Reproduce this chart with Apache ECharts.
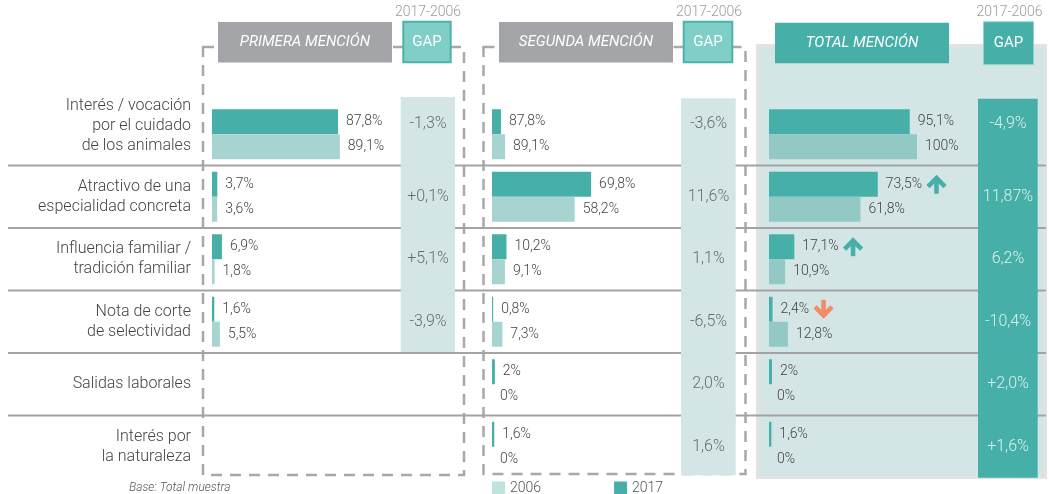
<!DOCTYPE html>
<html>
<head>
<meta charset="utf-8">
<script src="https://cdn.jsdelivr.net/npm/echarts/dist/echarts.min.js"></script>
<style>
  html, body { margin: 0; padding: 0; background: #ffffff; }
  #chart { width: 1049px; height: 494px; }
</style>
</head>
<body>
<div id="chart"></div>
<script>
// ---------- DATA ----------
const categories = [
  'Interés / vocación\npor el cuidado\nde los animales',
  'Atractivo de una\nespecialidad concreta',
  'Influencia familiar /\ntradición familiar',
  'Nota de corte\nde selectividad',
  'Salidas laborales',
  'Interés por\nla naturaleza'
];
const primera2017 = [87.8, 3.7, 6.9, 1.6, null, null];
const primera2006 = [89.1, 3.6, 1.8, 5.5, null, null];
// bar lengths as drawn in the segunda panel
const segunda2017 = [6.3, 69.8, 10.2, 0.8, 2, 1.6];
const segunda2006 = [9.2, 58.2, 9.1, 7.3, 0, 0];
// values printed next to the segunda bars
const segundaText2017 = ['87,8%', '69,8%', '10,2%', '0,8%', '2%', '1,6%'];
const segundaText2006 = ['89,1%', '58,2%', '9,1%', '7,3%', '0%', '0%'];
const total2017 = [95.1, 73.5, 17.1, 2.4, 2, 1.6];
const total2006 = [100, 61.8, 10.9, 12.8, 0, 0];
const totalTrend = [null, 'up', 'up', 'down', null, null];
const gapPrimera = ['-1,3%', '+0,1%', '+5,1%', '-3,9%', null, null];
const gapSegunda = ['-3,6%', '11,6%', '1,1%', '-6,5%', '2,0%', '1,6%'];
const gapTotal = ['-4,9%', '11,87%', '6,2%', '-10,4%', '+2,0%', '+1,6%'];
const yearNames = ['2006', '2017'];

// ---------- STYLE / LAYOUT ----------
const FONT = 'Roboto';
const FW = 300;
const C17 = '#46b0a8';
const C06 = '#a7d4d0';
const C06T = '#93c9c5';
const LIGHT = '#d3e6e5';
const TXT = '#444444';
const G_TOP = 103, G_H = 375;
const FIRST_ROW_LIFT = 8;
const fmt = v => String(v).replace('.', ',') + '%';

const upSvg = "<svg xmlns='http://www.w3.org/2000/svg' width='22' height='20' viewBox='0 0 22 20'><path d='M11 19.5V4.5M2.5 12.3L11 3.8L19.5 12.3' fill='none' stroke='#46b0a8' stroke-width='4.6'/></svg>";
const downSvg = "<svg xmlns='http://www.w3.org/2000/svg' width='22' height='20' viewBox='0 0 22 20'><path d='M11 0.5V15.5M2.5 7.7L11 16.2L19.5 7.7' fill='none' stroke='#f38a6a' stroke-width='4.6'/></svg>";
const upUrl = 'data:image/svg+xml;charset=utf-8,' + encodeURIComponent(upSvg);
const downUrl = 'data:image/svg+xml;charset=utf-8,' + encodeURIComponent(downSvg);

const panels = [
  { left: 212, width: 143.5 },
  { left: 492, width: 142 },
  { left: 769, width: 148 }
];
const gapCols = [
  { left: 401, width: 54 },
  { left: 681, width: 55 },
  { left: 978, width: 60 }
];

const grids = [], xAxes = [], yAxes = [];
panels.concat(gapCols).forEach((p, i) => {
  grids.push({ left: p.left, width: p.width, top: G_TOP, height: G_H, containLabel: false });
  xAxes.push({ type: 'value', gridIndex: i, min: 0, max: i < 3 ? 100 : 1, show: false });
  yAxes.push({
    type: 'category', gridIndex: i, data: categories, inverse: true,
    show: i === 0,
    axisLine: { show: false }, axisTick: { show: false }, splitLine: { show: false },
    axisLabel: {
      show: i === 0, margin: 21, fontSize: 16, lineHeight: 20, color: TXT, fontFamily: FONT, fontWeight: FW,
      formatter: (v, idx) => idx === 0 ? v + '\n{sp|}' : v,
      rich: { sp: { fontSize: 1, lineHeight: FIRST_ROW_LIFT * 2 } }
    }
  });
});

const baseLabel = { show: true, position: 'right', distance: 8, fontSize: 14, color: TXT, fontFamily: FONT, fontWeight: FW };

function barSeries(idx, name, data, color, formatter, extraLabel) {
  return {
    type: 'bar', name: name, xAxisIndex: idx, yAxisIndex: idx, data: data,
    barWidth: 25, barGap: '0%', itemStyle: { color: color },
    label: Object.assign({}, baseLabel, { formatter: formatter }, extraLabel || {}),
    silent: true
  };
}

const series = [
  barSeries(0, '2017', primera2017, C17, p => fmt(p.value)),
  barSeries(0, '2006', primera2006, C06, p => fmt(p.value)),
  barSeries(1, '2017', segunda2017, C17, p => segundaText2017[p.dataIndex]),
  barSeries(1, '2006', segunda2006, C06, p => segundaText2006[p.dataIndex]),
  barSeries(2, '2017', total2017, C17, p => {
    const t = totalTrend[p.dataIndex];
    return fmt(p.value) + (t ? ' {' + t + '|}' : '');
  }, { rich: {
    up: { width: 22, height: 20, backgroundColor: { image: upUrl } },
    down: { width: 22, height: 20, backgroundColor: { image: downUrl } }
  } }),
  barSeries(2, '2006', total2006, C06T, p => fmt(p.value))
];

[gapPrimera, gapSegunda, gapTotal].forEach((arr, k) => {
  series.push({
    type: 'scatter', xAxisIndex: 3 + k, yAxisIndex: 3 + k,
    data: arr.map((t, i) => t == null ? null :
      (i === 0 ? { value: [0.5, i], label: { offset: [0, -FIRST_ROW_LIFT - 2] } } : [0.5, i])),
    symbolSize: 1, itemStyle: { color: 'rgba(0,0,0,0)' }, silent: true,
    label: { show: true, position: 'inside', fontSize: 16, fontFamily: FONT, fontWeight: FW,
      color: k === 2 ? '#ffffff' : '#4d4d4d',
      formatter: p => arr[p.dataIndex] }
  });
});

// ---------- DECORATION ----------
const graphics = [];
graphics.push({ type: 'rect', z: 0, shape: { x: 757.5, y: 45.5, width: 288, height: 432 },
  style: { fill: LIGHT, stroke: '#e3e3e3', lineWidth: 3 } });
const dash = { fill: 'none', stroke: '#a8a8aa', lineWidth: 2.5, lineDash: [11, 8] };
graphics.push({ type: 'rect', z: 1, shape: { x: 203, y: 47, width: 261, height: 428 }, style: dash });
graphics.push({ type: 'rect', z: 1, shape: { x: 483.5, y: 47, width: 262, height: 427 }, style: dash });
for (let k = 1; k < categories.length; k++) {
  const y = G_TOP + k * G_H / categories.length;
  graphics.push({ type: 'line', z: 1, shape: { x1: 8, y1: y, x2: 1046, y2: y },
    style: { stroke: '#a3a3a3', lineWidth: 2 } });
}
graphics.push({ type: 'rect', z: 2, shape: { x: 400.7, y: 97, width: 54.3, height: 255 }, style: { fill: LIGHT } });
graphics.push({ type: 'rect', z: 2, shape: { x: 681, y: 98.3, width: 54.7, height: 377 }, style: { fill: LIGHT } });
graphics.push({ type: 'rect', z: 2, shape: { x: 978, y: 98.7, width: 59.7, height: 379 }, style: { fill: C17 } });

function txt(x, y, text, size, color, italic, align, weight) {
  return { type: 'text', z: 5, x: x, y: y,
    style: { text: text, fill: color, fontSize: size, fontFamily: FONT, fontWeight: weight || FW,
      fontStyle: italic ? 'italic' : 'normal', align: align || 'center', verticalAlign: 'middle' } };
}
// headers
[
  { x: 218, y: 22, fill: '#a4a5a9', title: 'PRIMERA MENCIÓN', gx: 403.3, gy: 21.7, gfill: '#7fcfc8', gstroke: '#4cb3aa', gw: 2, gh: 40.6, gc: 427 },
  { x: 499, y: 22, fill: '#a4a5a9', title: 'SEGUNDA MENCIÓN', gx: 683.7, gy: 21.7, gfill: '#7fcfc8', gstroke: '#4cb3aa', gw: 2, gh: 40.6, gc: 708 },
  { x: 775, y: 22.7, fill: C17, title: 'TOTAL MENCIÓN', gx: 983.5, gy: 21.8, gfill: C17, gstroke: '#8fd3cc', gw: 1, gh: 42.8, gc: 1008.5 }
].forEach(h => {
  graphics.push({ type: 'rect', z: 4, shape: { x: h.x, y: h.y, width: 174, height: 40.6 }, style: { fill: h.fill } });
  graphics.push(txt(h.x + 87, h.y + 20.5, h.title, 15, '#ffffff', true, 'center', 400));
  graphics.push({ type: 'rect', z: 4, shape: { x: h.gx, y: h.gy, width: 2 * (h.gc - h.gx), height: h.gh },
    style: { fill: h.gfill, stroke: h.gstroke, lineWidth: h.gw } });
  graphics.push(txt(h.gc, h.gy + h.gh / 2, 'GAP', 15, '#ffffff', false, 'center', 400));
  graphics.push(txt(h.gc + 1, 12.5, '2017-2006', 14, '#9b9b9b', false));
});
graphics.push(txt(129, 488, 'Base: Total muestra', 12, '#555555', true, 'left'));

const chart = echarts.init(document.getElementById('chart'), null, { renderer: 'canvas' });
chart.setOption({
  animation: false,
  backgroundColor: '#ffffff',
  grid: grids, xAxis: xAxes, yAxis: yAxes,
  legend: {
    left: 492, top: 481, padding: 0, itemWidth: 13, itemHeight: 13, itemGap: 73, icon: 'rect',
    selectedMode: false,
    textStyle: { fontSize: 14, color: '#555555', fontFamily: FONT, fontWeight: FW },
    data: [
      { name: yearNames[0], itemStyle: { color: '#bfe3df' } },
      { name: yearNames[1], itemStyle: { color: C17 } }
    ]
  },
  graphic: { elements: graphics },
  series: series
});
</script>
</body>
</html>
